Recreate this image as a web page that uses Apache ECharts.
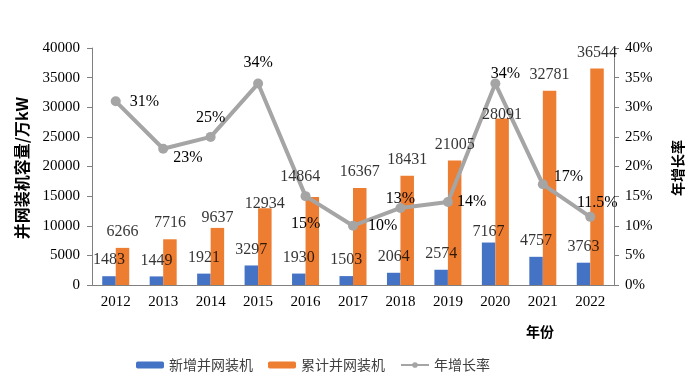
<!DOCTYPE html>
<html><head><meta charset="utf-8">
<script src="https://cdn.jsdelivr.net/npm/echarts@6/dist/echarts.min.js"></script>
<style>html,body{margin:0;padding:0;background:#fff}#c{width:694px;height:380px}</style>
</head><body><div id="c"></div>
<script>
const years = ['2012','2013','2014','2015','2016','2017','2018','2019','2020','2021','2022'];
const newAdded = [1483,1449,1921,3297,1930,1503,2064,2574,7167,4757,3763];
const cumulative = [6266,7716,9637,12934,14864,16367,18431,21005,28091,32781,36544];
const growthRate = [31,23,25,34,15,10,13,14,34,17,11.5];
const growthLabels = ['31%','23%','25%','34%','15%','10%','13%','14%','34%','17%','11.5%'];

const serif = 'Liberation Serif';
const cjk = 'Noto Sans CJK SC';

// label placement tweaks (styling only)
const barHalf = 6.75;
const blueLabelOpts = {8:{offset:[-barHalf,5]}};
const orangeLabelOpts = {2:{distance:2},3:{offset:[barHalf,11]},4:{offset:[barHalf-12,-4]},8:{offset:[barHalf,12]}};
const lineLabelOpts = [
  {position:'right',distance:9},
  {position:'right',distance:5,offset:[0,9]},
  {position:'top',distance:6},
  {position:'top',distance:8},
  {position:'bottom',distance:15},
  {position:'right',distance:10},
  {position:'top',distance:3,offset:[0,7]},
  {position:'right',distance:4},
  {position:'top',distance:2,offset:[10,5]},
  {position:'right',distance:6,offset:[0,-7]},
  {position:'top',distance:1,offset:[7,0]}
];
const lblStyle = {show:true,position:'top',distance:8,fontFamily:serif,fontSize:16,color:'#000'};

const chart = echarts.init(document.getElementById('c'));
chart.setOption({
  animation:false,
  grid:{left:92,right:80,top:48,bottom:95},
  legend:{
    left:131, top:353, itemWidth:28, itemHeight:7, itemGap:15,
    textStyle:{fontFamily:cjk,fontSize:14,color:'#404040'},
    data:['新增并网装机','累计并网装机','年增长率']
  },
  xAxis:{
    type:'category', data:years,
    axisLine:{lineStyle:{color:'#808080',width:1}},
    axisTick:{show:false},
    axisLabel:{fontFamily:serif,fontSize:15,color:'#000',margin:10}
  },
  yAxis:[{
    type:'value', min:0, max:40000, interval:5000,
    axisLine:{show:true,lineStyle:{color:'#808080'}},
    axisTick:{show:true,length:5,lineStyle:{color:'#808080'}},
    splitLine:{show:false},
    axisLabel:{fontFamily:serif,fontSize:15,color:'#000',margin:12,formatter:v=>String(v)}
  },{
    type:'value', min:0, max:40, interval:5,
    axisLine:{show:true,lineStyle:{color:'#808080'}},
    axisTick:{show:true,length:5,lineStyle:{color:'#808080'}},
    splitLine:{show:false},
    axisLabel:{fontFamily:serif,fontSize:15,color:'#000',margin:11,formatter:'{value}%'}
  }],
  graphic:[
    {type:'text',x:22,y:168,rotation:Math.PI/2,style:{text:'并网装机容量/万kW',fontFamily:cjk,fontSize:16,fontWeight:'bold',fill:'#000',align:'center',verticalAlign:'middle'}},
    {type:'text',x:678,y:168,rotation:Math.PI/2,style:{text:'年增长率',fontFamily:cjk,fontSize:14,fontWeight:'bold',fill:'#000',align:'center',verticalAlign:'middle'}},
    {type:'text',x:540,y:332,style:{text:'年份',fontFamily:cjk,fontSize:14,fontWeight:'bold',fill:'#000',align:'center',verticalAlign:'middle'}}
  ],
  series:[{
    name:'新增并网装机', type:'bar', barWidth:13.5, barGap:'0%',
    itemStyle:{color:'#4472C4'},
    data:newAdded
  },{
    name:'累计并网装机', type:'bar', barWidth:13.5, barGap:'0%',
    itemStyle:{color:'#ED7D31'},
    data:cumulative
  },{
    name:'年增长率', type:'line', yAxisIndex:1,
    symbol:'circle', symbolSize:10,
    lineStyle:{color:'#A5A5A5',width:4},
    itemStyle:{color:'#A5A5A5'},
    data:growthRate.map((v,i)=>({value:v,label:Object.assign({formatter:growthLabels[i]},lineLabelOpts[i])})),
    label:{show:true,fontFamily:serif,fontSize:16,color:'#000'},
    z:5
  },{
    // value labels for the blue bars, drawn above the line
    type:'scatter', silent:true, symbolSize:0, z:10,
    data:newAdded.map((v,i)=>({value:v,label:Object.assign({offset:[-barHalf,0]},blueLabelOpts[i]||{})})),
    label:lblStyle
  },{
    // value labels for the orange bars, drawn above the line
    type:'scatter', silent:true, symbolSize:0, z:10,
    data:cumulative.map((v,i)=>({value:v,label:Object.assign({offset:[barHalf,0]},orangeLabelOpts[i]||{})})),
    label:lblStyle
  }]
});
</script></body></html>
